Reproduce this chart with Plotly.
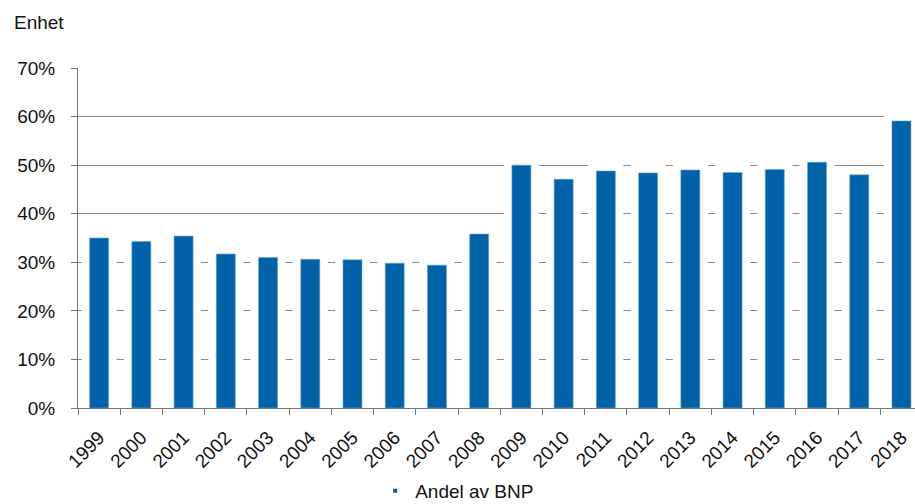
import plotly.graph_objects as go

years = ["1999", "2000", "2001", "2002", "2003", "2004", "2005", "2006", "2007", "2008",
         "2009", "2010", "2011", "2012", "2013", "2014", "2015", "2016", "2017", "2018"]
andel_av_bnp = [35.0, 34.3, 35.4, 31.7, 31.0, 30.6, 30.5, 29.8, 29.4, 35.8,
                50.0, 47.1, 48.8, 48.4, 49.0, 48.5, 49.1, 50.6, 48.0, 59.1]
series_name = "Andel av BNP"
y_title = "Enhet"

BLUE = "#0062A8"
FONT = "Liberation Sans, Arial, Helvetica, sans-serif"
FS = 19

fig = go.Figure()
# white halo behind bars (covers gridlines near bars as in reference)
fig.add_trace(go.Bar(x=years, y=andel_av_bnp, width=0.45,
                     marker=dict(color="white", line=dict(color="white", width=16)),
                     showlegend=False, hoverinfo="skip"))
fig.add_trace(go.Bar(x=years, y=andel_av_bnp, width=0.45, name=series_name,
                     marker=dict(color=BLUE, line=dict(color="#6fa3d0", width=0.6)),
                     showlegend=False))
# legend entry with a tiny square marker
fig.add_trace(go.Scatter(x=[None], y=[None], mode="markers", name=series_name,
                         marker=dict(symbol="square", size=4, color=BLUE)))

fig.update_layout(
    width=915, height=504,
    margin=dict(l=78, r=0, t=68, b=96, autoexpand=False),
    paper_bgcolor="white", plot_bgcolor="white",
    barmode="overlay",
    font=dict(family=FONT, size=FS, color="#111111"),
    showlegend=True,
    legend=dict(orientation="h", xref="container", yref="container",
                x=0.41, xanchor="left", y=0.026, yanchor="middle",
                font=dict(size=FS), itemwidth=30, bgcolor="rgba(0,0,0,0)"),
    xaxis=dict(type="category", range=[-0.5, 19.32], tickson="boundaries",
               ticks="outside", ticklen=6, tickcolor="#777777", tickwidth=1,
               showline=True, linecolor="#777777", linewidth=1,
               showgrid=False, tickangle=-45, tickfont=dict(size=FS),
               ticklabelstandoff=10, automargin=False, fixedrange=True),
    yaxis=dict(range=[0, 70], dtick=10, ticksuffix="%",
               ticks="outside", ticklen=6, tickcolor="#777777", tickwidth=1,
               showline=True, linecolor="#777777", linewidth=1,
               showgrid=True, gridcolor="#8a8a8a", gridwidth=1,
               zeroline=False, tickfont=dict(size=FS), ticklabelstandoff=12,
               automargin=False, fixedrange=True),
    annotations=[dict(text=y_title, xref="paper", yref="paper",
                      x=-0.079, y=1.135, xanchor="left", yanchor="middle",
                      showarrow=False, font=dict(size=FS))],
)

fig.write_html("out.html", config={"displayModeBar": False},
               post_script="document.body.style.margin='0';document.body.style.overflow='hidden';")
